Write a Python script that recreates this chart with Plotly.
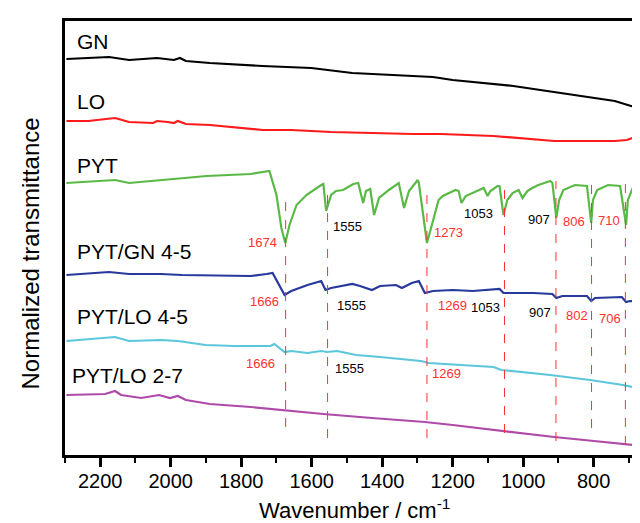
import plotly.graph_objects as go

# ---------------- data (wavenumber in cm-1, transmittance in a.u., stacked) -------------
gn_wn = [2296, 2175, 2118, 2039, 1991, 1974, 1957, 1889, 1740, 1601, 1485, 1256, 1200, 1028, 855, 740, 694, 663]
gn_t = [396, 398, 395, 397, 395, 397, 394, 392, 389, 387, 382, 378, 375, 369, 360, 354, 349, 348]

lo_wn = [2296, 2234, 2158, 2118, 2050, 2039, 2008, 1991, 1980, 1957, 1889, 1740, 1658, 1545, 1313, 1234, 1084, 912, 740, 706, 683, 666]
lo_t = [334, 334, 337, 333, 332, 334, 333, 332, 334, 331, 330, 325, 325, 323, 321, 321, 319, 314, 314, 315, 318, 315]

pyt_wn = [2296, 2158, 2118, 2028, 1980, 1898, 1773, 1720, 1700, 1686, 1675, 1663, 1643, 1615, 1573, 1567,
          1559, 1545, 1531, 1511, 1482, 1468, 1454, 1446, 1434, 1423, 1409, 1381, 1353, 1338, 1324, 1299,
          1296, 1273, 1256, 1240, 1228, 1192, 1183, 1175, 1163, 1127, 1112, 1101, 1093, 1073, 1067, 1056,
          1045, 1030, 1013, 1002, 988, 974, 957, 923, 917, 906, 898, 886, 853, 819, 807, 802, 790, 759,
          725, 708, 703, 689, 660]
pyt_t = [272, 275, 272, 275, 277, 279, 281, 284, 260, 227, 212, 230, 250, 260, 270, 271,
         244, 260, 264, 265, 271, 272, 252, 264, 266, 240, 257, 265, 272, 247, 264, 275,
         272, 212, 234, 255, 259, 265, 264, 252, 259, 265, 267, 259, 264, 269, 269, 240,
         255, 262, 265, 257, 264, 267, 270, 274, 272, 237, 255, 265, 270, 269, 232, 255, 265, 270,
         269, 230, 255, 267, 270]

pytgn_wn = [2296, 2175, 2118, 2028, 1968, 1773, 1728, 1711, 1677, 1658, 1612, 1573, 1561, 1545, 1485, 1463,
            1429, 1406, 1361, 1344, 1316, 1296, 1279, 1256, 1200, 1143, 1067, 1056, 971, 917, 906, 889,
            819, 807, 796, 720, 708, 697, 660]
pytgn_t = [180, 183, 181, 181, 180, 179, 181, 182, 160, 164, 170, 174, 165, 167, 171, 169,
           165, 169, 170, 167, 172, 174, 162, 164, 165, 164, 166, 162, 162, 161, 157, 159,
           159, 154, 157, 158, 153, 154, 153]

pytlo45_wn = [2296, 2158, 2118, 2028, 1980, 1901, 1819, 1717, 1706, 1677, 1658, 1612, 1573, 1556, 1528,
              1474, 1406, 1302, 1290, 1268, 1084, 1062, 923, 810, 717, 663]
pytlo45_t = [114, 118, 114, 115, 114, 110, 109, 109, 111, 103, 104, 102, 104, 103, 104,
             100, 98, 95, 94, 92, 88, 85, 80, 75, 70, 66]

pytlo27_wn = [2296, 2186, 2158, 2141, 2084, 2033, 2002, 1980, 1957, 1889, 1773, 1658, 1567, 1429, 1279,
              1200, 1084, 912, 799, 663]
pytlo27_t = [60, 61, 64, 60, 57, 60, 57, 59, 55, 51, 48, 44, 41, 37, 33, 30, 25, 18, 14, 9]

series_names = ["GN", "LO", "PYT", "PYT/GN 4-5", "PYT/LO 4-5", "PYT/LO 2-7"]
series_wn = [gn_wn, lo_wn, pyt_wn, pytgn_wn, pytlo45_wn, pytlo27_wn]
series_t = [gn_t, lo_t, pyt_t, pytgn_t, pytlo45_t, pytlo27_t]

# marked PYT bands (dashed guide lines) and their vertical extent
peak_wn = [1674, 1555, 1273, 1053, 907, 806, 710]
peak_top = [254, 267, 267, 270, 274, 277, 277]
peak_bottom = [28, 17, 17, 22, 14, 27, 10]

# band labels
pyt_labels = ["1674", "1555", "1273", "1053", "907", "806", "710"]
pytgn_labels = ["1666", "1555", "1269", "1053", "907", "802", "706"]
pytlo_labels = ["1666", "1555", "1269"]

x_ticks = [2200, 2000, 1800, 1600, 1400, 1200, 1000, 800]

# ---------------- styling ----------------
colors = ["#000000", "#ff1a1a", "#5ab946", "#27399c", "#5cc6db", "#b04aa8"]
RED = "#ff3030"
FONT = "Liberation Sans, Arial, sans-serif"

fig = go.Figure()
for name, wn, t, c in zip(series_names, series_wn, series_t, colors):
    fig.add_trace(go.Scatter(x=wn, y=t, mode="lines", name=name,
                             line=dict(color=c, width=2.2), showlegend=False))

# dashed guide lines
for w, top, bot in zip(peak_wn, peak_top, peak_bottom):
    fig.add_shape(type="line", xref="x", yref="y", x0=w, x1=w, y0=bot, y1=top,
                  line=dict(color=RED, width=1, dash="dash"))

# series labels (positions: wavenumber, value)
label_pos = [(2273, 414), (2273, 354), (2273, 290), (2273, 204), (2273, 139), (2285, 80)]
for name, (lx, ly) in zip(series_names, label_pos):
    fig.add_annotation(x=lx, y=ly, text=name, showarrow=False, xanchor="left",
                       font=dict(family=FONT, size=21, color="black"))

# band labels
red_set = {"1674", "1273", "806", "710", "1666", "1269", "802", "706"}
pyt_pos = [(1740, 213), (1499, 229), (1211, 223), (1127, 242), (954, 236), (855, 234), (756, 235)]
pytgn_pos = [(1734, 154), (1488, 150), (1200, 150), (1107, 148), (951, 143), (847, 140), (754, 137)]
pytlo_pos = [(1745, 92), (1494, 87), (1217, 82)]
for labels, poss in [(pyt_labels, pyt_pos), (pytgn_labels, pytgn_pos), (pytlo_labels, pytlo_pos)]:
    for txt, (px, py) in zip(labels, poss):
        fig.add_annotation(x=px, y=py, text=txt, showarrow=False,
                           font=dict(family=FONT, size=13,
                                     color=RED if txt in red_set else "black"))

# axis titles
fig.add_annotation(xref="paper", yref="paper", x=-0.06, y=0.465, text="Normalized transmittance",
                   textangle=-90, showarrow=False, xanchor="center", yanchor="middle",
                   font=dict(family=FONT, size=24, color="black"))
fig.add_annotation(xref="paper", yref="paper", x=0.5, y=-0.161, text="Wavenumber / cm<sup>-1</sup>",
                   showarrow=False, xanchor="center", yanchor="bottom",
                   font=dict(family=FONT, size=22, color="black"))

fig.update_layout(
    width=640, height=523,
    margin=dict(l=57, r=2, t=13, b=76),
    paper_bgcolor="white", plot_bgcolor="white",
    font=dict(family=FONT, color="black"),
)
fig.update_xaxes(range=[2300, 660], tickvals=x_ticks, ticks="outside", ticklen=9, tickwidth=2.5,
                 tickcolor="black", tickfont=dict(family=FONT, size=20, color="black"),
                 ticklabelstandoff=-3,
                 showline=True, linecolor="black", linewidth=3, mirror=True, showgrid=False,
                 zeroline=False,
                 minor=dict(dtick=100, tick0=0, ticks="outside", ticklen=5, tickwidth=2, tickcolor="black"))
fig.update_yaxes(range=[0, 434], showticklabels=False, ticks="", showline=True, linecolor="black",
                 linewidth=3, mirror=True, showgrid=False, zeroline=False)

fig.write_html("out.html")
